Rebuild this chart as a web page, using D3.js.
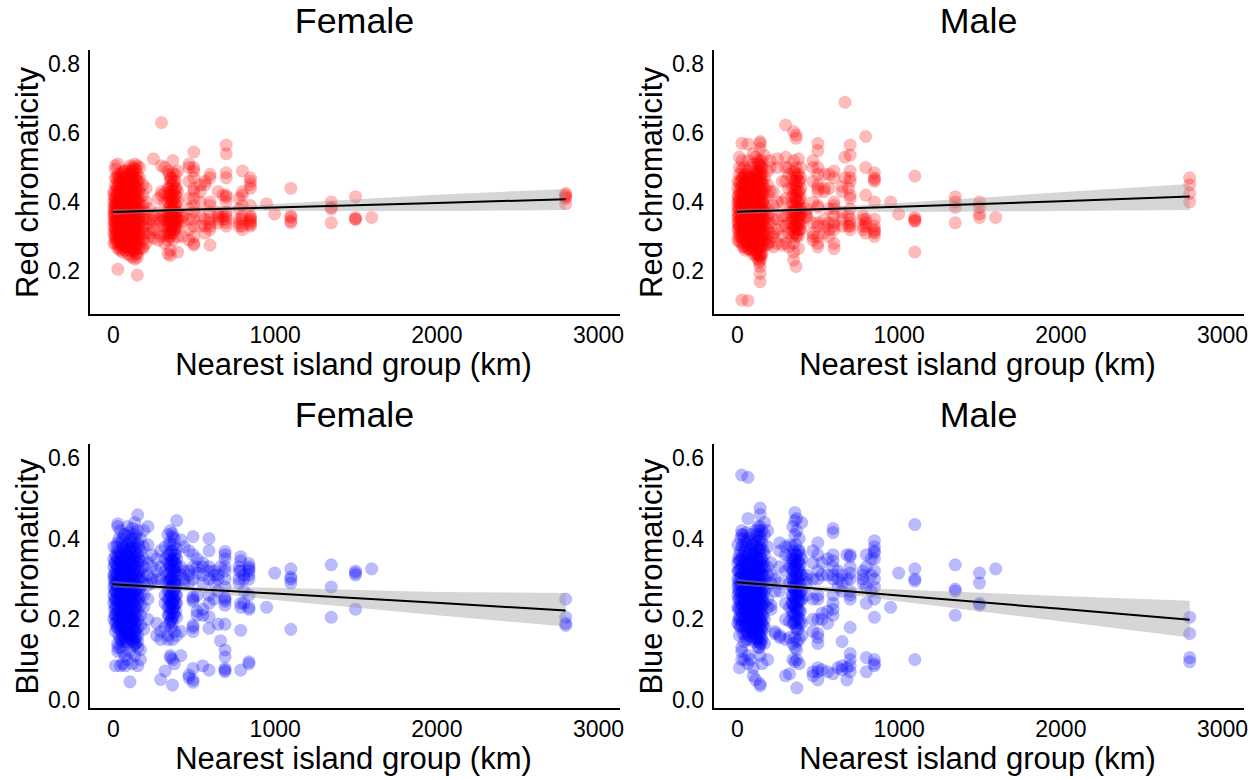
<!DOCTYPE html>
<html>
<head>
<meta charset="utf-8">
<script src="https://cdn.jsdelivr.net/npm/d3@7"></script>
<style>
  body { margin: 0; background: #fff; font-family: "Liberation Sans", Arial, sans-serif; }
  svg { display: block; }
</style>
</head>
<body>
<svg id="chart" width="1255" height="780"></svg>
<script>
// island groups (km), one list of readings for each of them
const femaleRedDist = [5,15,30,45,60,75,90,105,120,135,150,165,185,205,225,250,280,300,320,340,355,370,385,400,430,470,500,540,570,600,650,680,700,780,800,850,950,1000,1100,1350,1500,1600,2800,
  10,22,37,52,67,82,97,112,127,142,158,348,362,378,392];
const femaleRedVal = [
  [.28,.31,.33,.345,.36,.37,.385,.40,.42,.43],
  [.505,.495,.47,.45,.43,.41,.395,.38,.365,.35,.34,.325,.31,.295,.28],
  [.51,.48,.46,.44,.425,.405,.39,.375,.355,.335,.32,.30,.285,.265,.205],
  [.47,.455,.44,.42,.40,.385,.37,.36,.345,.33,.315,.30,.29,.275,.26],
  [.485,.46,.45,.435,.415,.405,.38,.365,.35,.34,.32,.31,.295,.28,.265,.255],
  [.49,.47,.445,.43,.42,.395,.375,.36,.345,.33,.325,.305,.29,.27,.26],
  [.475,.46,.44,.41,.40,.385,.37,.355,.335,.32,.30,.285,.275,.25],
  [.505,.48,.465,.45,.425,.41,.39,.375,.36,.34,.325,.31,.295,.27,.26,.245],
  [.49,.475,.455,.435,.42,.40,.38,.365,.35,.33,.315,.30,.28,.265,.24],
  [.51,.495,.47,.45,.43,.415,.395,.38,.36,.345,.33,.31,.29,.275,.255,.235],
  [.505,.48,.46,.44,.42,.405,.385,.37,.35,.335,.32,.30,.285,.265,.25,.24,.188],
  [.50,.47,.44,.41,.39,.37,.355,.34,.32,.30,.28,.265],
  [.45,.42,.39,.37,.35,.33,.31,.29,.27,.265],
  [.44,.40,.37,.35,.33,.31,.28],
  [.38,.35,.34,.31,.30],
  [.525,.36,.345,.32,.295],
  [.41,.37,.35,.33,.31,.29],
  [.63,.505,.43,.42,.36,.345,.30],
  [.50,.425,.40,.36,.35,.33,.305,.28],
  [.49,.44,.42,.40,.37,.355,.34,.33,.31,.29,.25],
  [.47,.46,.43,.41,.39,.375,.36,.35,.335,.32,.30,.26,.245],
  [.52,.485,.45,.43,.405,.38,.365,.35,.34,.325,.31,.29],
  [.48,.46,.44,.42,.395,.37,.355,.345,.33,.32],
  [.49,.43,.40,.37,.35,.335,.30,.255],
  [.36,.355,.345,.30],
  [.51,.50,.46,.41,.38,.35,.32,.29],
  [.545,.50,.49,.47,.44,.43,.41,.39,.37,.35,.33,.30,.28,.275],
  [.45,.43,.40,.36,.33],
  [.46,.45,.35,.33,.31],
  [.48,.47,.40,.39,.37,.35,.34,.33,.32,.275],
  [.43,.37,.35,.34,.36],
  [.42,.36,.35],
  [.565,.54,.485,.47,.42,.415,.40,.37,.36,.35,.34,.33],
  [.35,.34,.41,.33,.38],
  [.49,.43,.42,.39,.36,.35,.33,.32],
  [.47,.46,.45,.44,.39,.36,.355,.35,.345,.34,.335,.33],
  [.395],
  [.365],
  [.44,.36,.355,.345,.34],
  [.40,.385,.38,.34],
  [.415,.355,.35,.35],
  [.355],
  [.425,.42,.415,.41,.395],
  [.41,.39,.375,.36,.34,.32,.30],
  [.47,.445,.42,.40,.385,.37,.35,.335,.315,.30,.285],
  [.475,.45,.43,.41,.395,.38,.36,.345,.325,.31,.29,.27],
  [.48,.465,.44,.425,.405,.39,.37,.355,.34,.32,.30,.28],
  [.49,.46,.44,.42,.40,.385,.365,.35,.33,.315,.295,.275],
  [.48,.455,.435,.415,.39,.38,.36,.34,.325,.31,.285,.27],
  [.495,.47,.45,.43,.41,.39,.37,.355,.33,.315,.30,.28],
  [.49,.465,.44,.42,.40,.38,.365,.345,.335,.305,.29,.265],
  [.50,.475,.45,.43,.41,.395,.375,.355,.34,.32,.30,.285,.26],
  [.495,.47,.445,.425,.405,.385,.365,.35,.325,.31,.295,.27,.25],
  [.46,.43,.40,.375,.355,.335,.31,.29],
  [.48,.44,.415,.385,.36,.35,.33,.31,.30],
  [.47,.45,.42,.40,.38,.36,.34,.325,.31],
  [.46,.43,.41,.385,.365,.35,.335,.32],
  [.44,.415,.39,.37,.35,.34,.325]
];

const maleRedDist = [5,15,30,45,68,85,100,115,130,143,155,170,190,205,225,250,280,301,320,350,365,380,395,430,470,500,540,570,600,650,668,690,700,780,796,850,950,1000,1100,1350,1500,1600,2800,
  10,22,37,52,60,76,92,107,122,137,149,162,342,358,372,388];
const maleRedVal = [
  [.29,.32,.34,.355,.37,.385,.40,.415,.44,.46],
  [.53,.50,.48,.455,.43,.41,.395,.38,.36,.345,.33,.31,.285],
  [.57,.52,.495,.47,.445,.425,.40,.385,.37,.35,.335,.32,.30,.28,.116],
  [.50,.48,.465,.44,.42,.405,.39,.375,.36,.34,.33,.31,.295,.27],
  [.568,.52,.49,.47,.45,.43,.41,.395,.38,.365,.35,.335,.32,.305,.29,.265,.114],
  [.50,.475,.455,.435,.415,.40,.37,.355,.34,.325,.31,.29,.27,.26],
  [.54,.51,.46,.44,.42,.39,.375,.36,.345,.33,.31,.30,.28,.25],
  [.53,.49,.47,.45,.43,.41,.385,.37,.35,.335,.32,.30,.285,.26,.245],
  [.52,.51,.485,.465,.445,.42,.40,.38,.365,.345,.33,.31,.295,.27,.25,.235],
  [.575,.57,.555,.52,.505,.49,.475,.46,.44,.42,.405,.39,.37,.355,.34,.32,.305,.285,.265,.245,.23,.213,.193,.169],
  [.52,.50,.48,.46,.44,.425,.40,.38,.365,.35,.33,.31,.29,.27,.25],
  [.535,.47,.44,.41,.39,.37,.35,.33,.31,.29,.275],
  [.49,.45,.42,.38,.36,.34,.32,.30,.28,.275],
  [.52,.50,.43,.37,.34,.31,.285],
  [.43,.39,.35,.31,.30,.27],
  [.525,.50,.40,.35,.32,.28],
  [.46,.40,.36,.33,.30,.275],
  [.623,.53,.50,.46,.41,.36,.33,.28],
  [.50,.48,.44,.37,.34,.31,.27],
  [.604,.52,.49,.45,.42,.39,.37,.35,.33,.31,.28,.255,.232],
  [.594,.585,.50,.47,.45,.43,.41,.385,.37,.345,.325,.30,.213],
  [.525,.48,.46,.43,.40,.38,.36,.34,.32,.30,.265],
  [.50,.47,.44,.41,.385,.365,.35,.335,.32],
  [.38,.37,.36,.355],
  [.52,.50,.46,.40,.34,.31,.30,.29],
  [.57,.549,.50,.48,.45,.44,.43,.39,.385,.34,.33,.30,.28,.27],
  [.48,.44,.43,.35,.33,.31],
  [.48,.44,.38,.34,.32,.30],
  [.49,.47,.40,.39,.38,.36,.34,.33,.32,.28,.265],
  [.445,.43,.37,.35,.33],
  [.689,.53,.47],
  [.44,.36,.33],
  [.565,.536,.49,.47,.46,.42,.41,.38,.35,.34,.33,.32],
  [.36,.35,.33,.32],
  [.59,.50,.42,.35,.34,.33,.31],
  [.485,.47,.465,.46,.40,.35,.33,.32,.315,.31,.30],
  [.40],
  [.365],
  [.475,.355,.35,.345,.345,.255],
  [.415,.40,.385,.34],
  [.40,.385,.365,.355],
  [.355],
  [.47,.45,.425,.40],
  [.42,.40,.38,.36,.34,.325,.30],
  [.46,.44,.42,.40,.38,.365,.35,.33,.315,.30],
  [.47,.45,.43,.41,.395,.375,.36,.345,.325,.305,.29,.27],
  [.475,.455,.435,.415,.39,.38,.355,.34,.32,.31,.285,.26],
  [.48,.46,.44,.425,.40,.385,.37,.35,.33,.315,.295,.275],
  [.47,.445,.425,.405,.39,.365,.35,.335,.32,.30,.28,.265],
  [.465,.44,.415,.395,.375,.36,.345,.325,.31,.29,.27],
  [.475,.45,.43,.41,.385,.37,.355,.335,.32,.30,.28,.26],
  [.49,.47,.45,.43,.41,.39,.37,.355,.335,.315,.295,.275,.25],
  [.51,.485,.465,.445,.425,.405,.385,.365,.345,.33,.31,.29,.27,.245,.225],
  [.50,.48,.455,.43,.41,.39,.37,.35,.335,.315,.295,.275,.25,.24],
  [.45,.425,.40,.375,.355,.335,.31,.285],
  [.47,.44,.415,.395,.375,.355,.34,.32,.30],
  [.485,.46,.435,.41,.39,.37,.35,.33,.31],
  [.475,.445,.42,.40,.38,.36,.345,.325,.305],
  [.46,.43,.405,.38,.36,.34,.32]
];

const femaleBlueDist = [5,15,29,45,60,75,90,105,120,135,153,170,190,216,240,270,295,322,340,355,368,380,394,420,440,470,495,520,555,594,625,650,665,693,780,790,810,841,950,1000,1100,1350,1500,1600,2800,
  10,22,37,52,67,82,97,112,127,142,160,348,362,375,388];
const femaleBlueVal = [
  [.20,.24,.26,.28,.30,.31,.33,.35,.38],
  [.36,.34,.32,.30,.285,.27,.25,.23,.21,.19,.17,.085],
  [.437,.43,.39,.37,.35,.33,.31,.295,.28,.265,.245,.225,.205,.18,.14,.13,.12],
  [.42,.36,.34,.32,.30,.29,.27,.25,.23,.21,.19,.175,.15,.13,.085],
  [.40,.38,.355,.335,.315,.30,.28,.26,.24,.22,.20,.18,.16,.145,.12,.09],
  [.41,.37,.35,.33,.31,.29,.27,.255,.235,.215,.195,.17,.15,.11,.085],
  [.43,.385,.36,.34,.32,.30,.285,.265,.245,.225,.205,.185,.165,.14,.10],
  [.395,.375,.345,.325,.31,.29,.27,.25,.23,.21,.19,.17,.155,.12,.045],
  [.425,.41,.38,.355,.335,.315,.295,.275,.26,.24,.22,.20,.18,.16,.145,.09],
  [.44,.40,.37,.35,.33,.31,.29,.27,.25,.23,.21,.195,.175,.155,.14,.11],
  [.459,.42,.39,.36,.34,.32,.30,.28,.26,.24,.22,.20,.18,.16,.145,.13,.085],
  [.40,.37,.345,.32,.30,.28,.26,.235,.21,.185,.125,.10],
  [.42,.38,.35,.33,.31,.29,.26,.23,.175],
  [.43,.385,.34,.31,.285,.25,.20],
  [.36,.33,.30,.29],
  [.35,.32,.30,.19,.16],
  [.37,.33,.30,.17,.15,.051],
  [.38,.35,.32,.29,.26,.24,.18,.072],
  [.41,.36,.34,.31,.29,.27,.25,.23,.21,.16,.15],
  [.42,.385,.35,.33,.30,.28,.26,.24,.215,.195,.105,.11],
  [.413,.405,.37,.345,.325,.305,.285,.265,.245,.225,.205,.19,.15,.10,.037],
  [.40,.36,.34,.32,.29,.27,.25,.23,.21,.17,.09],
  [.445,.375,.35,.33,.31,.285,.26,.24,.205,.16],
  [.397,.33,.31,.17,.11],
  [.38,.32,.30,.29],
  [.37,.32,.31,.29,.062,.055],
  [.405,.36,.33,.30,.256,.25,.245,.18,.17,.185,.044,.05,.078],
  [.35,.33,.315,.26,.22,.21],
  [.34,.33,.31,.29,.225,.21,.085],
  [.40,.37,.33,.32,.30,.26,.24,.206,.178,.074],
  [.32,.31,.29,.25],
  [.31,.30,.27,.188],
  [.147,.33],
  [.368,.36,.35,.33,.32,.30,.28,.255,.25,.245,.235,.188,.124,.107,.074,.078,.07],
  [.33,.32,.30,.29],
  [.355,.345,.32,.24,.23,.173,.074],
  [.31,.30,.27,.24],
  [.338,.33,.325,.32,.31,.30,.26,.23,.225,.095,.09],
  [.23],
  [.315],
  [.325,.305,.30,.29,.175],
  [.335,.28,.205],
  [.32,.315,.31,.225],
  [.325],
  [.25,.205,.19,.185],
  [.34,.31,.29,.27,.25,.225,.21],
  [.38,.355,.33,.31,.29,.27,.25,.235,.215,.195,.18],
  [.40,.365,.345,.325,.30,.28,.26,.245,.22,.20,.185,.16],
  [.39,.36,.34,.32,.305,.285,.265,.24,.225,.205,.19,.17,.15],
  [.41,.375,.35,.33,.31,.295,.275,.25,.23,.215,.195,.175,.155],
  [.385,.365,.34,.325,.30,.28,.26,.245,.22,.21,.185,.165,.145],
  [.415,.37,.355,.33,.315,.295,.27,.255,.24,.215,.20,.18,.16],
  [.40,.38,.35,.335,.305,.29,.265,.25,.225,.205,.19,.165,.15],
  [.39,.365,.345,.32,.30,.285,.265,.24,.22,.20,.185,.17,.15,.135],
  [.41,.375,.355,.33,.31,.29,.27,.25,.23,.21,.19,.17,.155,.14],
  [.38,.35,.32,.30,.275,.25],
  [.39,.36,.335,.315,.295,.27,.25,.23,.21,.19],
  [.37,.345,.32,.30,.28,.26,.24,.225,.20,.18],
  [.385,.35,.33,.31,.29,.27,.25,.235,.215],
  [.36,.34,.32,.295,.28,.26,.24,.22]
];

const maleBlueDist = [5,15,29,45,68,85,100,115,130,143,155,170,190,210,235,265,300,325,345,358,370,385,400,430,470,500,525,560,594,625,650,680,700,780,800,830,850,950,1000,1100,1350,1500,1600,2800,
  10,22,37,52,60,76,92,107,122,137,149,162,340,352,364,378,392];
const maleBlueVal = [
  [.19,.23,.26,.28,.30,.32,.34,.385],
  [.36,.345,.32,.30,.285,.27,.25,.23,.205,.185,.16,.08],
  [.558,.42,.41,.38,.35,.33,.31,.29,.27,.25,.23,.205,.185,.13,.12,.10],
  [.40,.37,.34,.32,.30,.28,.26,.24,.22,.20,.175,.145,.10],
  [.552,.45,.395,.36,.34,.32,.30,.285,.265,.245,.225,.205,.18,.165,.11,.09],
  [.41,.375,.35,.33,.31,.29,.27,.25,.23,.21,.19,.175,.15,.10],
  [.385,.36,.345,.325,.305,.285,.265,.245,.225,.205,.185,.165,.06,.08],
  [.42,.39,.365,.335,.315,.295,.275,.255,.235,.215,.195,.18,.155,.05],
  [.43,.405,.375,.35,.33,.31,.29,.27,.25,.23,.21,.19,.17,.155,.13],
  [.476,.46,.43,.41,.38,.36,.34,.32,.30,.28,.26,.24,.22,.20,.18,.16,.14,.11,.04,.035],
  [.42,.39,.35,.33,.31,.29,.27,.25,.23,.21,.19,.17,.15,.09],
  [.44,.41,.36,.33,.30,.27,.24,.20,.18,.14],
  [.42,.38,.33,.31,.28,.25,.23,.10],
  [.34,.31,.29,.235,.225],
  [.30,.27,.17,.165],
  [.39,.37,.33,.29,.27,.155,.16],
  [.38,.36,.32,.24,.20,.15,.06],
  [.385,.35,.33,.29,.23,.195,.155,.065],
  [.43,.36,.34,.32,.30,.28,.26,.24,.21,.19,.14,.10],
  [.465,.445,.41,.35,.33,.30,.27,.25,.23,.19,.155,.13,.095],
  [.45,.42,.36,.34,.32,.31,.28,.26,.24,.22,.20,.175,.145,.125,.10,.03],
  [.40,.37,.34,.32,.29,.27,.25,.22,.19,.15,.09],
  [.44,.35,.31,.27,.25,.19,.16],
  [.31,.30,.29,.26],
  [.37,.34,.30,.25,.20,.17,.06,.07],
  [.39,.36,.32,.30,.26,.25,.20,.165,.155,.14,.08,.07,.05],
  [.34,.31,.215,.20,.075],
  [.35,.31,.22,.19,.07],
  [.425,.415,.36,.345,.33,.31,.30,.26,.24,.225,.21,.065],
  [.32,.30,.28,.08],
  [.31,.29,.27,.145,.085,.075],
  [.36,.30,.08,.05],
  [.36,.355,.33,.315,.30,.27,.26,.25,.18,.115,.10,.085,.07],
  [.32,.31,.30,.29],
  [.36,.33,.28,.24,.105,.07],
  [.35,.31,.27],
  [.395,.38,.37,.365,.35,.32,.30,.28,.25,.205,.10,.09,.085],
  [.23],
  [.315],
  [.435,.325,.30,.295,.10],
  [.335,.275,.27,.21],
  [.315,.29,.24,.235],
  [.325],
  [.205,.165,.105,.095],
  [.35,.32,.29,.27,.25,.225,.20],
  [.40,.37,.345,.325,.305,.285,.26,.24,.22,.20,.18],
  [.41,.385,.355,.335,.315,.295,.275,.255,.235,.215,.195,.165],
  [.39,.37,.345,.32,.30,.28,.265,.245,.225,.205,.185,.16],
  [.415,.38,.355,.33,.31,.29,.27,.25,.235,.215,.19,.17,.15],
  [.40,.365,.34,.325,.30,.285,.26,.24,.22,.20,.18,.16],
  [.385,.36,.335,.315,.295,.275,.255,.235,.215,.195,.175,.155],
  [.395,.37,.35,.325,.305,.28,.26,.24,.225,.205,.185,.165,.145],
  [.41,.38,.355,.335,.31,.29,.27,.25,.23,.21,.19,.17,.15],
  [.42,.395,.37,.345,.325,.305,.285,.265,.245,.225,.205,.185,.165,.145,.13],
  [.40,.375,.35,.33,.31,.29,.27,.255,.235,.215,.195,.175,.155,.14],
  [.37,.34,.31,.28,.26,.24,.21,.185],
  [.38,.35,.325,.30,.28,.26,.24,.22],
  [.37,.345,.32,.295,.275,.255,.235,.215,.195],
  [.385,.36,.335,.31,.29,.27,.25,.23,.21,.18],
  [.37,.345,.325,.30,.28,.26,.245,.225,.205,.175],
  [.36,.335,.31,.285,.265,.245,.22,.20]
];

// fitted line with its confidence band
const fitDist = [0,500,1000,2000,2800];
const femaleRedFit = [.371,.378,.384,.397,.408];
const femaleRedLow = [.363,.373,.374,.374,.377];
const femaleRedHigh = [.379,.383,.394,.421,.438];
const maleRedFit = [.372,.379,.386,.402,.416];
const maleRedLow = [.364,.374,.371,.374,.377];
const maleRedHigh = [.380,.384,.397,.428,.452];
const femaleBlueFit = [.287,.275,.264,.241,.222];
const femaleBlueLow = [.279,.269,.248,.210,.182];
const femaleBlueHigh = [.295,.281,.278,.268,.265];
const maleBlueFit = [.292,.276,.259,.226,.199];
const maleBlueLow = [.284,.270,.245,.195,.155];
const maleBlueHigh = [.300,.282,.274,.258,.246];

const xTicks = [0,1000,2000,3000];
const redTicks = [.2,.4,.6,.8];
const blueTicks = [0,.2,.4,.6];

const panels = [
  {title:"Female", ylab:"Red chromaticity", color:"#ff0000", dist:femaleRedDist, val:femaleRedVal, fit:femaleRedFit, low:femaleRedLow, high:femaleRedHigh, ticks:redTicks, left:89, right:620, top:50, bottom:315, x0:113, y:[.2,271,.8,64]},
  {title:"Male", ylab:"Red chromaticity", color:"#ff0000", dist:maleRedDist, val:maleRedVal, fit:maleRedFit, low:maleRedLow, high:maleRedHigh, ticks:redTicks, left:713, right:1244, top:50, bottom:315, x0:737, y:[.2,271,.8,64]},
  {title:"Female", ylab:"Blue chromaticity", color:"#0000ff", dist:femaleBlueDist, val:femaleBlueVal, fit:femaleBlueFit, low:femaleBlueLow, high:femaleBlueHigh, ticks:blueTicks, left:89, right:620, top:444, bottom:709, x0:113, y:[0,700,.6,458]},
  {title:"Male", ylab:"Blue chromaticity", color:"#0000ff", dist:maleBlueDist, val:maleBlueVal, fit:maleBlueFit, low:maleBlueLow, high:maleBlueHigh, ticks:blueTicks, left:713, right:1244, top:444, bottom:709, x0:737, y:[0,700,.6,458]}
];

const svg = d3.select("#chart");

function drawPanel(p) {
  let xScale = d3.scaleLinear().domain([0,3000]).range([p.x0, p.x0 + 485]);
  let yScale = d3.scaleLinear().domain([p.y[0], p.y[2]]).range([p.y[1], p.y[3]]);

  let pts = [];
  p.dist.forEach((d, i) => p.val[i].forEach(v => pts.push({d, v})));

  let g = svg.append("g");

  g.selectAll("circle").data(pts).enter().append("circle")
    .attr("cx", d => xScale(d.d))
    .attr("cy", d => yScale(d.v))
    .attr("r", 6.3)
    .attr("fill", p.color)
    .attr("fill-opacity", 0.27)
    .attr("stroke", p.color)
    .attr("stroke-opacity", 0.08)
    .attr("stroke-width", 1);

  let band = d3.area()
    .x((d, i) => xScale(fitDist[i]))
    .y0((d, i) => yScale(p.low[i]))
    .y1((d, i) => yScale(p.high[i]));
  g.append("path").attr("d", band(fitDist)).attr("fill", "#999999").attr("fill-opacity", 0.4);

  let line = d3.line().x((d, i) => xScale(fitDist[i])).y(d => yScale(d));
  g.append("path").attr("d", line(p.fit)).attr("fill", "none").attr("stroke", "#000").attr("stroke-width", 2);

  let axisX = d3.axisBottom(xScale).tickValues(xTicks).tickSize(0).tickPadding(12).tickFormat(d3.format("d"));
  let gx = g.append("g").attr("transform", `translate(0,${p.bottom})`).call(axisX);
  gx.select(".domain").attr("d", `M${p.left - 1},0H${p.right}`);

  let axisY = d3.axisLeft(yScale).tickValues(p.ticks).tickSize(0).tickPadding(9).tickFormat(d3.format(".1f"));
  let gy = g.append("g").attr("transform", `translate(${p.left},0)`).call(axisY);
  gy.select(".domain").attr("d", `M0,${p.top}V${p.bottom}`);

  g.selectAll(".domain").attr("stroke", "#000").attr("stroke-width", 2);
  g.selectAll(".tick text").attr("fill", "#000").attr("font-size", 23).attr("font-family", "Liberation Sans");

  let midX = (p.left + p.right) / 2;
  g.append("text").attr("x", midX).attr("y", p.top - 17).attr("text-anchor", "middle")
    .attr("font-size", 35.8).attr("fill", "#000").text(p.title);
  g.append("text").attr("x", midX - 1).attr("y", p.bottom + 60).attr("text-anchor", "middle")
    .attr("font-size", 31).attr("fill", "#000").text("Nearest island group (km)");
  g.append("text").attr("transform", `translate(${p.left - 51},${(p.top + p.bottom) / 2}) rotate(-90)`)
    .attr("text-anchor", "middle").attr("font-size", 31).attr("fill", "#000").text(p.ylab);
}

panels.forEach(drawPanel);
</script>
</body>
</html>
